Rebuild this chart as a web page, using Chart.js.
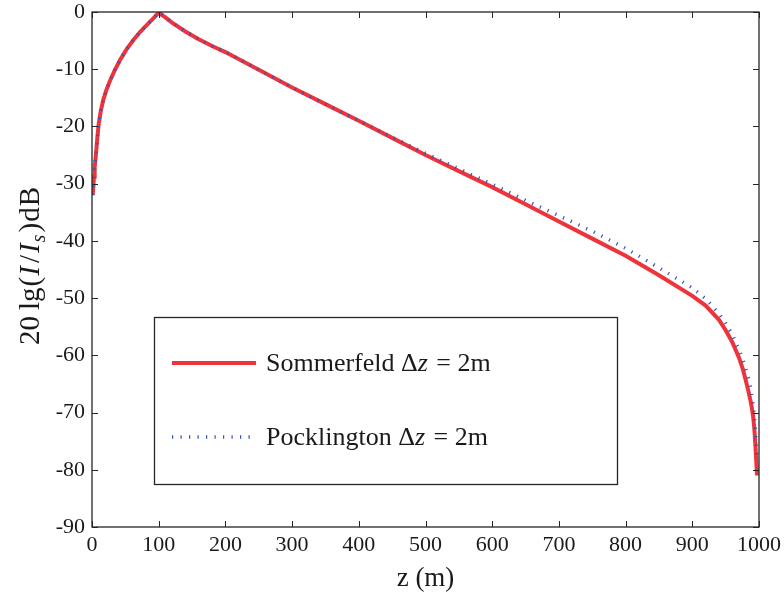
<!DOCTYPE html>
<html>
<head>
<meta charset="utf-8">
<script src="https://cdn.jsdelivr.net/npm/chart.js@4/dist/chart.umd.min.js"></script>
<style>
  html, body { margin: 0; padding: 0; background: #fff; }
  #wrap { width: 784px; height: 593px; position: relative; }
</style>
</head>
<body>
<div id="wrap"><canvas id="currentChart"></canvas></div>
<script>
// current along the wire, Sommerfeld vs Pocklington formulation
const zSom = [1, 2, 3, 4, 6, 8, 10, 13, 17, 22, 27, 34, 42, 52, 62, 72, 82, 92, 100,
  110, 120, 140, 160, 180, 200, 250, 300, 350, 400, 450, 500, 550, 600, 650, 700,
  750, 800, 850, 900, 920, 940, 950, 960, 970, 976, 980, 984, 987, 989, 991, 993, 995, 997];
const dbSom = [-32, -30.5, -28.8, -27.2, -24.8, -22, -19.6, -17.4, -15.3, -13.5, -12, -10.2, -8.4, -6.5, -4.9, -3.5, -2.3, -1.1, -0.1,
  -0.95, -1.85, -3.4, -4.75, -5.95, -7.0, -10.1, -13.2, -16.1, -19.0, -22.0, -25.0, -27.8, -30.6, -33.6, -36.6,
  -39.6, -42.6, -46.0, -49.6, -51.3, -53.8, -55.6, -57.7, -60.4, -62.5, -64.3, -66.2, -67.8, -69.0, -70.5, -72.8, -76.5, -81];

const zPock = [1, 2, 3, 4, 6, 8, 10, 13, 17, 22, 27, 34, 42, 52, 62, 72, 82, 92, 100,
  110, 120, 140, 160, 180, 200, 250, 300, 350, 400, 450, 500, 550, 600, 650, 700,
  750, 800, 850, 900, 920, 940, 950, 960, 970, 976, 980, 984, 987, 989, 991, 993, 995, 997];
const dbPock = [-32, -30.5, -28.8, -27.2, -24.8, -22, -19.6, -17.4, -15.3, -13.5, -12, -10.2, -8.4, -6.5, -4.9, -3.5, -2.3, -1.1, -0.1,
  -0.95, -1.85, -3.4, -4.75, -5.95, -7.0, -10.1, -13.2, -16.1, -19.0, -21.9, -24.7, -27.4, -30.1, -32.9, -35.6,
  -38.3, -41.3, -44.7, -48.2, -50.1, -52.7, -54.4, -56.4, -59.0, -60.8, -62.3, -64.0, -65.4, -66.8, -68.4, -70.7, -73.8, -78];

const xTicks = [0, 100, 200, 300, 400, 500, 600, 700, 800, 900, 1000];
const yTicks = [0, -10, -20, -30, -40, -50, -60, -70, -80, -90];

const RED = "rgb(238, 52, 58)";
const BLUE = "rgb(52, 82, 190)";
const SERIF = "'Liberation Serif', 'DejaVu Serif', serif";

const toPoints = (xs, ys) => xs.map((x, i) => ({ x: x, y: ys[i] }));

// draws a run of text pieces, some italic or subscripted, starting at (x, y)
function drawPieces(ctx, pieces, x, y, size) {
  let cx = x;
  pieces.forEach(p => {
    const s = p.sub ? size * 0.7 : size;
    ctx.font = (p.italic ? "italic " : "") + s + "px " + SERIF;
    ctx.fillText(p.t, cx, y + (p.sub ? size * 0.22 : 0));
    cx += ctx.measureText(p.t).width + (p.gap || 0);
  });
  return cx - x;
}
function piecesWidth(ctx, pieces, size) {
  let w = 0;
  pieces.forEach(p => {
    const s = p.sub ? size * 0.7 : size;
    ctx.font = (p.italic ? "italic " : "") + s + "px " + SERIF;
    w += ctx.measureText(p.t).width + (p.gap || 0);
  });
  return w;
}

const axesDecor = {
  id: "axesDecor",
  afterDraw(chart) {
    const { ctx, chartArea: a, scales } = chart;
    const xs = scales.x, ys = scales.y;
    ctx.save();

    // box and inward ticks on all four sides
    ctx.strokeStyle = "#262626";
    ctx.lineWidth = 1.3;
    ctx.strokeRect(a.left, a.top, a.right - a.left, a.bottom - a.top);
    ctx.lineWidth = 1;
    const tl = 6;
    ctx.beginPath();
    xTicks.forEach(v => {
      const px = Math.round(xs.getPixelForValue(v)) + 0.5;
      ctx.moveTo(px, a.bottom); ctx.lineTo(px, a.bottom - tl);
      ctx.moveTo(px, a.top); ctx.lineTo(px, a.top + tl);
    });
    yTicks.forEach(v => {
      const py = Math.round(ys.getPixelForValue(v)) + 0.5;
      ctx.moveTo(a.left, py); ctx.lineTo(a.left + tl, py);
      ctx.moveTo(a.right, py); ctx.lineTo(a.right - tl, py);
    });
    ctx.stroke();

    ctx.fillStyle = "#1a1a1a";
    ctx.textBaseline = "alphabetic";

    // x axis title
    ctx.font = "27px " + SERIF;
    ctx.textAlign = "center";
    ctx.fillText("z (m)", (a.left + a.right) / 2, 586);

    // y axis title, rotated
    ctx.textAlign = "left";
    const ySize = 29;
    const yPieces = [
      { t: "20", gap: 6 }, { t: "lg", gap: 1 }, { t: "(", gap: 1 }, { t: "I", italic: true, gap: 3 }, { t: "/", gap: 2 },
      { t: "I", italic: true, gap: 1 }, { t: "s", italic: true, sub: true, gap: 2 }, { t: ")", gap: 1 }, { t: "d", gap: 1 }, { t: "B" }
    ];
    const yw = piecesWidth(ctx, yPieces, ySize);
    ctx.save();
    ctx.translate(39, 266);
    ctx.rotate(-Math.PI / 2);
    drawPieces(ctx, yPieces, -yw / 2, 0, ySize);
    ctx.restore();

    // legend
    const lx = 154.5, ly = 317.5, lw = 463, lh = 167;
    ctx.fillStyle = "#fff";
    ctx.fillRect(lx, ly, lw, lh);
    ctx.strokeStyle = "#262626";
    ctx.lineWidth = 1.3;
    ctx.strokeRect(lx, ly, lw, lh);

    const rows = [
      { ds: chart.data.datasets[0], y: 363, name: "Sommerfeld " },
      { ds: chart.data.datasets[1], y: 437, name: "Pocklington " }
    ];
    rows.forEach(r => {
      ctx.save();
      ctx.strokeStyle = r.ds.borderColor;
      ctx.lineWidth = r.ds.borderWidth;
      ctx.lineCap = "butt";
      ctx.setLineDash(r.ds.borderDash || []);
      ctx.beginPath();
      ctx.moveTo(172, r.y);
      ctx.lineTo(256, r.y);
      ctx.stroke();
      ctx.restore();
      ctx.fillStyle = "#1a1a1a";
      ctx.textBaseline = "middle";
      drawPieces(ctx, [
        { t: r.name }, { t: "\u0394" }, { t: "z", italic: true, gap: 2 }, { t: " = 2m" }
      ], 266, r.y + 1, 26);
    });
    ctx.restore();
  }
};

new Chart(document.getElementById("currentChart"), {
  type: "line",
  data: {
    datasets: [
      {
        label: "Sommerfeld \u0394z = 2m",
        data: toPoints(zSom, dbSom),
        borderColor: RED,
        borderWidth: 4,
        pointRadius: 0,
        tension: 0,
        fill: false,
        order: 2,
      },
      {
        label: "Pocklington \u0394z = 2m",
        data: toPoints(zPock, dbPock),
        borderColor: BLUE,
        borderWidth: 3.5,
        borderDash: [1.2, 7.3],
        borderCapStyle: "butt",
        pointRadius: 0,
        tension: 0,
        fill: false,
        order: 1,
      },
    ],
  },
  options: {
    responsive: true,
    maintainAspectRatio: false,
    devicePixelRatio: 1,
    animation: false,
    layout: { padding: { top: 12, right: 25, left: 0, bottom: 0 } },
    plugins: { legend: { display: false }, tooltip: { enabled: false } },
    scales: {
      x: {
        type: "linear",
        min: 0,
        max: 1000,
        afterBuildTicks: s => { s.ticks = xTicks.map(v => ({ value: v })); },
        afterFit: s => { s.height = 66; s.paddingLeft = 0; s.paddingRight = 0; },
        grid: { display: false, drawTicks: false },
        border: { display: false },
        ticks: {
          padding: 5,
          color: "#1a1a1a",
          font: { family: SERIF, size: 22 },
          maxRotation: 0,
          callback: v => String(v),
        },
      },
      y: {
        type: "linear",
        min: -90,
        max: 0,
        afterBuildTicks: s => { s.ticks = yTicks.map(v => ({ value: v })); },
        afterFit: s => { s.width = 92; s.paddingTop = 0; s.paddingBottom = 0; },
        grid: { display: false, drawTicks: false },
        border: { display: false },
        ticks: {
          padding: 7,
          color: "#1a1a1a",
          font: { family: SERIF, size: 22 },
          callback: v => String(v),
        },
      },
    },
  },
  plugins: [axesDecor],
});
</script>
</body>
</html>
